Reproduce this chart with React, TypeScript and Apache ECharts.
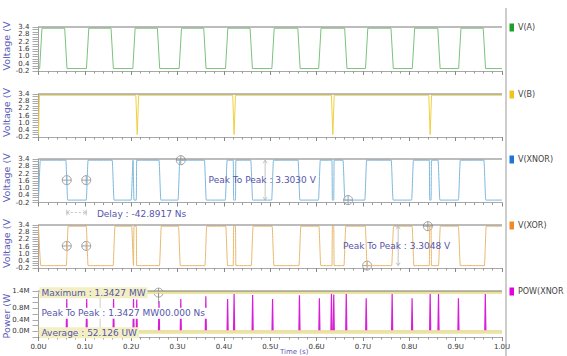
import React, { useEffect, useRef } from "react";
import * as echarts from "echarts";

// ---------- data (times in µs, voltages in V, power in MW) ----------
const timeTickLabels = ["0.0U", "0.1U", "0.2U", "0.3U", "0.4U", "0.5U", "0.6U", "0.7U", "0.8U", "0.9U", "1.0U"];
const voltTickLabels = ["3.4", "2.8", "2.2", "1.6", "1.0", "0.4", "-0.2"];
const powerTickLabels = ["1.4M", "0.8M", "0.4M", "0.0M"];
const legendNames = ["V(A)", "V(B)", "V(XNOR)", "V(XOR)", "POW(XNOR"];

const HIGH = 3.3;
const LOW = 0.0;

// V(A): [rise, fall] edge centres
const aPulses = [
  [0.005, 0.059], [0.106, 0.159], [0.206, 0.259], [0.306, 0.359], [0.406, 0.459],
  [0.506, 0.562], [0.607, 0.663], [0.708, 0.763], [0.809, 0.864], [0.909, 0.962],
];
// V(B): high all the time except narrow drops
const bStart = 0.002;
const bDips = [0.213, 0.422, 0.635, 0.845];
// V(XNOR): high intervals + glitch dips
const xnorPulses = [
  [0.002, 0.061], [0.105, 0.161], [0.202, 0.262], [0.303, 0.360], [0.405, 0.460],
  [0.505, 0.562], [0.606, 0.659], [0.706, 0.763], [0.807, 0.864], [0.908, 0.963],
];
const xnorGlitches = [[0.206, 0.211], [0.421, 0.425], [0.634, 0.637], [0.844, 0.847]];
// V(XOR): high intervals + glitch spikes
const xorPulses = [
  [0.0, 0.003], [0.062, 0.105], [0.163, 0.203], [0.263, 0.304], [0.361, 0.406],
  [0.461, 0.506], [0.564, 0.607], [0.661, 0.707], [0.764, 0.808], [0.865, 0.908], [0.964, 1.0],
];
const xorGlitches = [[0.206, 0.211], [0.421, 0.425], [0.634, 0.637], [0.844, 0.847]];
// POW(XNOR): spikes
const powTimes = [0.061, 0.104, 0.162, 0.205, 0.212, 0.26, 0.307, 0.361, 0.408, 0.422, 0.462, 0.505,
  0.563, 0.606, 0.632, 0.637, 0.664, 0.707, 0.763, 0.806, 0.845, 0.863, 0.906, 0.964];
const powPeaks = [1.12, 1.12, 1.12, 1.12, 1.1, 1.05, 1.12, 1.22, 1.12, 1.3, 1.26, 1.12,
  1.25, 1.15, 1.3, 1.28, 1.32, 1.15, 1.32, 1.15, 1.34, 1.3, 1.15, 1.3];

// measurement annotations
const delayCursorTimes = [0.061, 0.103];
const delayLabel = "Delay : -42.8917 Ns";
const xnorP2PLabel = "Peak To Peak : 3.3030 V";
const xnorP2PTime = 0.489;
const xnorMaxCursor = [0.307, HIGH];
const xnorMinCursor = [0.668, LOW];
const xorP2PLabel = "Peak To Peak : 3.3048 V";
const xorP2PTime = 0.776;
const xorMaxCursor = [0.84, HIGH];
const xorMinCursor = [0.709, LOW];
const powMax = 1.3427;
const powAvg = 0.000052;
const powMaxLabel = "Maximum : 1.3427 MW";
const powP2PLabel = "Peak To Peak : 1.3427 MW00.000 Ns";
const powAvgLabel = "Average : 52.126 UW";
const powMaxCursorTime = 0.259;
const powP2PTime = 0.133;

// ---------- layout / style ----------
const panels = [
  { top: 27, height: 44 },
  { top: 94, height: 43 },
  { top: 159, height: 43.5 },
  { top: 225, height: 43 },
  { top: 291, height: 46 },
];
const LEFT = 38.5;
const RIGHT_X = 502;
const lineColors = ["#7cc27c", "#f0d040", "#7db7dc", "#e9b86e", "#d81fd8"];
const legendColors = ["#1f9e2a", "#f5c21a", "#1f74d8", "#f08a24", "#e000e0"];
const noteColor = "#5656aa";
const FONT = "DejaVu Sans";

function square(pulses: number[][], ramp: number, hi: number, lo: number) {
  const pts: number[][] = [];
  if (pulses[0][0] > 0) pts.push([0, lo]);
  for (const [r, f] of pulses) {
    if (r <= 0) pts.push([0, hi]);
    else { pts.push([r - ramp, lo]); pts.push([r + ramp, hi]); }
    if (f >= 1) pts.push([1, hi]);
    else { pts.push([f - ramp, hi]); pts.push([f + ramp, lo]); }
  }
  if (pulses[pulses.length - 1][1] < 1) pts.push([1, lo]);
  return pts;
}
function withGlitches(pts: number[][], glitches: number[][], from: number, to: number) {
  const out = pts.slice();
  for (const [g0, g1] of glitches) {
    out.push([g0 - 0.0008, from], [g0, to], [g1, to], [g1 + 0.0008, from]);
  }
  return out.sort((a, b) => a[0] - b[0]);
}

export default function App() {
  const ref = useRef<HTMLDivElement>(null);
  useEffect(() => {
    const el = ref.current!;
    const chart = echarts.init(el, null, { renderer: "svg" });

    const aData = square(aPulses, 0.0025, HIGH, LOW);
    const bData: number[][] = [[0, LOW], [bStart, HIGH]];
    for (const d of bDips) bData.push([d - 0.003, HIGH], [d, LOW], [d + 0.003, HIGH]);
    bData.push([1, HIGH]);
    const xnorData = withGlitches(square(xnorPulses, 0.002, HIGH, LOW), xnorGlitches, HIGH, LOW);
    const xorData = withGlitches(square(xorPulses, 0.002, HIGH, LOW), xorGlitches, LOW, HIGH);
    const powData: number[][] = [[0, 0]];
    powTimes.forEach((t, i) => powData.push([t - 0.0012, 0], [t, powPeaks[i]], [t + 0.0012, 0]));
    powData.push([1, 0]);

    const grids = panels.map((p) => ({ left: LEFT, width: RIGHT_X - LEFT, top: p.top, height: p.height }));
    const xAxes = panels.map((_, i) => ({
      type: "value", gridIndex: i, min: 0, max: 1, interval: 0.1,
      axisLine: { show: true, onZero: false, lineStyle: { color: "#a8a8a8", width: 1 } },
      axisTick: { show: true, length: 4, lineStyle: { color: "#888" } },
      minorTick: { show: true, splitNumber: 5, length: 2.5, lineStyle: { color: "#999" } },
      splitLine: { show: false },
      axisLabel: {
        show: i === 4, fontSize: 7, color: "#333", margin: 6, fontFamily: FONT,
        formatter: (v: number) => timeTickLabels[Math.round(v * 10)] ?? "",
      },
    }));
    const yAxes = panels.map((_, i) => {
      const isPow = i === 4;
      return {
        type: "value", gridIndex: i,
        min: -0.2, max: isPow ? 1.4 : 3.4, interval: 0.2,
        axisLine: { show: true, onZero: false, lineStyle: { color: "#a0a0a0" } },
        axisTick: { show: true, length: 6, lineStyle: { color: "#aaa" } },
        splitLine: { show: false },
        axisLabel: {
          fontSize: 7, color: "#333", margin: 9, fontFamily: FONT,
          formatter: (v: number) => {
            const s = isPow ? v.toFixed(1) + "M" : v.toFixed(1);
            return (isPow ? powerTickLabels : voltTickLabels).includes(s) ? s : "";
          },
        },
      };
    });
    const mk = (i: number, data: number[][], extra: any = {}) => ({
      type: "line", name: legendNames[i], xAxisIndex: i, yAxisIndex: i, data,
      symbol: "none", showSymbol: false, clip: true,
      lineStyle: { color: lineColors[i], width: 1 }, itemStyle: { color: lineColors[i] },
      ...extra,
    });
    const series = [
      mk(0, aData),
      mk(1, bData),
      mk(2, xnorData, { smooth: 0.25, smoothMonotone: "x" }),
      mk(3, xorData, { smooth: 0.25, smoothMonotone: "x" }),
      mk(4, powData, {
        lineStyle: { color: lineColors[4], width: 1.2 },
        markLine: {
          silent: true, symbol: "none", label: { show: false },
          data: [
            { yAxis: powMax, lineStyle: { color: "#ebe39e", width: 3, type: "solid" } },
            { yAxis: powAvg, lineStyle: { color: "#ebe39e", width: 3.5, type: "solid" } },
          ],
        },
      }),
    ];

    chart.setOption({
      animation: false,
      backgroundColor: "#ffffff",
      textStyle: { fontFamily: FONT },
      grid: grids, xAxis: xAxes, yAxis: yAxes, series,
    });

    const P = (g: number, t: number, v: number) => chart.convertToPixel({ gridIndex: g }, [t, v]) as number[];
    const G: any[] = [];
    const gray = "#8a8a8a";
    const cursor = (x: number, y: number) => ({
      type: "group", x, y, z: 60, children: [
        { type: "circle", shape: { cx: 0, cy: 0, r: 4.5 }, style: { fill: "none", stroke: gray, lineWidth: 0.8 } },
        { type: "line", shape: { x1: -4.5, y1: 0, x2: 4.5, y2: 0 }, style: { stroke: gray, lineWidth: 0.8 } },
        { type: "line", shape: { x1: 0, y1: -4.5, x2: 0, y2: 4.5 }, style: { stroke: gray, lineWidth: 0.8 } },
      ],
    });
    const vArrow = (x: number, y1: number, y2: number) => {
      const s = { stroke: "#b4b4b4", lineWidth: 0.8, fill: "none" };
      G.push(
        { type: "line", z: 55, shape: { x1: x, y1, x2: x, y2 }, style: s },
        { type: "polyline", z: 55, shape: { points: [[x - 2, y1 + 3], [x, y1], [x + 2, y1 + 3]] }, style: s },
        { type: "polyline", z: 55, shape: { points: [[x - 2, y2 - 3], [x, y2], [x + 2, y2 - 3]] }, style: s },
      );
    };
    const note = (x: number, y: number, text: string, bg?: string) => ({
      type: "text", x, y, z: 70,
      style: {
        text, fontSize: 9, fontFamily: FONT, fill: noteColor, verticalAlign: "middle", align: "left",
        backgroundColor: bg, padding: bg ? [1, 2, 1, 2] : 0,
      },
    });

    // top borders, legends, axis names
    panels.forEach((p, i) => {
      G.push({ type: "line", z: 40, shape: { x1: LEFT, y1: p.top, x2: RIGHT_X, y2: p.top }, style: { stroke: "#7a7a7a", lineWidth: 1.2 } });
      G.push({ type: "rect", z: 40, shape: { x: 509.5, y: p.top - 3.5, width: 4.5, height: 8 }, style: { fill: legendColors[i] } });
      G.push({ type: "text", z: 40, x: 518, y: p.top + 0.5, style: { text: legendNames[i], fontSize: 8, fontFamily: FONT, fill: "#444", verticalAlign: "middle" } });
      G.push({
        type: "text", z: 40, x: 6.5, y: p.top + p.height / 2 - (i === 4 ? -2 : 3), rotation: Math.PI / 2,
        style: { text: i === 4 ? "Power (W" : "Voltage (V", fontSize: 9.5, fontFamily: FONT, fill: "#5b5bb8", align: "center", verticalAlign: "middle" },
      });
    });
    G.push({ type: "line", z: 40, shape: { x1: 506, y1: 8, x2: 506, y2: 356 }, style: { stroke: "#9a9a9a", lineWidth: 1 } });
    G.push({ type: "text", z: 40, x: 280, y: 355.5, style: { text: "Time (s)", fontSize: 7, fontFamily: FONT, fill: "#5b5bb8", verticalAlign: "bottom" } });

    // delay cursors on XNOR and XOR
    for (const g of [2, 3]) for (const t of delayCursorTimes) {
      const [x, y] = P(g, t, HIGH / 2);
      G.push(cursor(x, y));
    }
    const [dx1] = P(2, delayCursorTimes[0], 0);
    const [dx2] = P(2, delayCursorTimes[1], 0);
    const dy = panels[2].top + panels[2].height + 10;
    const ds = { stroke: "#b8b8b8", lineWidth: 0.8, fill: "none" };
    G.push(
      { type: "line", z: 55, shape: { x1: dx1, y1: dy - 3, x2: dx1, y2: dy + 3 }, style: ds },
      { type: "line", z: 55, shape: { x1: dx2, y1: dy - 3, x2: dx2, y2: dy + 3 }, style: ds },
      { type: "line", z: 55, shape: { x1: dx1, y1: dy, x2: dx2, y2: dy }, style: { ...ds, lineDash: [2, 2] } },
      { type: "polyline", z: 55, shape: { points: [[dx1 + 3, dy - 2], [dx1, dy], [dx1 + 3, dy + 2]] }, style: ds },
      { type: "polyline", z: 55, shape: { points: [[dx2 - 3, dy - 2], [dx2, dy], [dx2 - 3, dy + 2]] }, style: ds },
    );
    const [dtx] = P(2, 0.126, 0);
    G.push(note(dtx, dy + 1.5, delayLabel));

    // XNOR peak to peak
    {
      const [x, yTop] = P(2, xnorP2PTime, HIGH);
      const [, yBot] = P(2, xnorP2PTime, LOW);
      vArrow(x, yTop, yBot);
      const a = P(2, xnorMaxCursor[0], xnorMaxCursor[1]);
      const b = P(2, xnorMinCursor[0], xnorMinCursor[1]);
      G.push(cursor(a[0], a[1]), cursor(b[0], b[1]));
      const [tx, ty] = P(2, 0.367, HIGH / 2);
      G.push(note(tx, ty, xnorP2PLabel));
    }
    // XOR peak to peak
    {
      const [x, yTop] = P(3, xorP2PTime, HIGH);
      const [, yBot] = P(3, xorP2PTime, LOW);
      vArrow(x, yTop, yBot);
      const a = P(3, xorMaxCursor[0], xorMaxCursor[1]);
      const b = P(3, xorMinCursor[0], xorMinCursor[1]);
      G.push(cursor(a[0], a[1]), cursor(b[0], b[1]));
      const [tx, ty] = P(3, 0.657, HIGH / 2);
      G.push(note(tx, ty, xorP2PLabel));
    }
    // Power annotations
    {
      const [px, pTop] = P(4, powP2PTime, powMax);
      const [, pBot] = P(4, powP2PTime, powAvg);
      G.push({ type: "line", z: 55, shape: { x1: px, y1: pTop, x2: px, y2: pBot }, style: { stroke: "#c0c0c0", lineWidth: 0.8 } });
      const c = P(4, powMaxCursorTime, powMax);
      G.push(cursor(c[0], c[1]));
      G.push({ type: "line", z: 55, shape: { x1: c[0], y1: c[1], x2: c[0], y2: c[1] + 11 }, style: { stroke: gray, lineWidth: 0.8 } });
      const [mx, my] = P(4, 0.002, powMax);
      G.push(note(mx, my, powMaxLabel, "#f3efc2"));
      const [qx, qy] = P(4, 0.0, 0.63);
      G.push(note(qx + 1, qy, powP2PLabel, "#ffffff"));
      const [ax, ay] = P(4, 0.002, powAvg);
      G.push(note(ax, ay + 1.5, powAvgLabel, "#f3efc2"));
    }

    chart.setOption({ graphic: G });
    return () => chart.dispose();
  }, []);
  return <div ref={ref} style={{ position: "fixed", left: 0, top: 0, width: 567, height: 356, background: "#fff" }} />;
}
